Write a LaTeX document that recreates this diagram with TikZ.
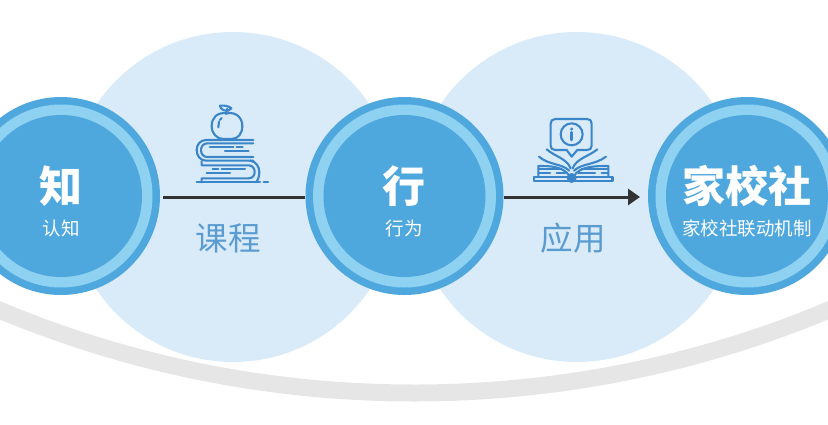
\documentclass[tikz,border=0pt]{standalone}
\usepackage{fontspec}
\setmainfont{Noto Sans CJK SC}
\usetikzlibrary{arrows.meta}
\definecolor{ringblue}{HTML}{4EA8DD}
\definecolor{ringlight}{HTML}{8FD1F0}
\definecolor{halo}{HTML}{D9EBF9}
\definecolor{arcgray}{HTML}{E6E6E6}
\definecolor{iconblue}{HTML}{3B86C8}
\definecolor{labelblue}{HTML}{5A9BD0}
\definecolor{linedark}{HTML}{333333}
\tikzset{
  halocirc/.style={circle,fill=halo,minimum size=330pt,inner sep=0pt},
  outercirc/.style={circle,fill=ringblue,minimum size=198pt,inner sep=0pt},
  midcirc/.style={circle,fill=ringlight,minimum size=183pt,inner sep=0pt},
  innercirc/.style={circle,fill=ringblue,minimum size=162pt,inner sep=0pt},
  title/.style={text=white,font=\fontsize{43}{43}\selectfont\bfseries,inner sep=0pt},
  subtitle/.style={text=white,font=\fontsize{18.5}{18.5}\selectfont,inner sep=0pt},
  steplabel/.style={text=labelblue,font=\fontsize{32.5}{33}\selectfont,inner sep=0pt},
  iconline/.style={draw=iconblue,line width=2.1pt,line cap=round,line join=round},
  connector/.style={draw=linedark,line width=3pt},
}
\begin{document}
\begin{tikzpicture}[x=1pt,y=-1pt]
\useasboundingbox (0,0) rectangle (828,424);
\begin{scope}
\clip (0,0) rectangle (828,424);
\draw[arcgray,line width=17pt] (414,-681) circle[radius=1074pt];
\node[halocirc] (h1) at (233,197) {};
\node[halocirc] (h2) at (577,197) {};
\coordinate (tip) at (640,197);
\node[outercirc] (zhi) at (61,196) {};
\node[outercirc] (xing) at (404.5,196) {};
\node[outercirc] (jia) at (747,196) {};
\draw[connector,shorten <=3pt] (zhi.east |- tip) -- (xing.west |- tip);
\draw[connector,-{Triangle[length=12pt,width=16pt]}] (xing.east |- tip) -- (tip);
\node[midcirc] at (zhi) {};
\node[midcirc] at (xing) {};
\node[midcirc] at (jia) {};
\node[innercirc] at (zhi) {};
\node[innercirc] at (xing) {};
\node[innercirc] at (jia) {};
\end{scope}
\node[title] (t1) at (61,186) {知};
\node[subtitle] (s1) at (61,228) {认知};
\node[title] (t2) at (404,186) {行};
\node[subtitle] (s2) at (404,228) {行为};
\node[title] (t3) at (747,186) {家校社};
\node[subtitle] (s3) at (747,228) {家校社联动机制};
\node[steplabel] (l1) at (228,238) {课程};
\node[steplabel] (l2) at (573,238) {应用};
% apple and books icon
\begin{scope}[shift={(170,90)},x=0.3333pt,y=-0.3333pt]
\draw[iconline] (172,70) .. controls (140,65) and (125,85) .. (125,108) .. controls (125,130) and (140,147) .. (160,147) .. controls (168,147) and (176,147) .. (184,147) .. controls (205,147) and (217,130) .. (217,108) .. controls (217,85) and (200,65) .. (172,70) -- cycle;
\draw[iconline] (145,112) -- (147,95) (150,90) -- (155,84);
\draw[iconline] (168,72) -- (172,56);
\draw[iconline] (168,62) .. controls (160,62) and (150,55) .. (150,47) .. controls (165,45) and (180,50) .. (184,55) .. controls (178,62) and (172,64) .. (168,62) -- cycle;
\draw[iconline] (250,150) -- (108,150) .. controls (90,150) and (80,165) .. (80,180) .. controls (80,198) and (92,212) .. (108,212) -- (250,212);
\draw[iconline] (250,160) -- (112,160) .. controls (100,160) and (93,170) .. (93,180) .. controls (93,192) and (100,201) .. (112,201) -- (250,201);
\draw[iconline] (120,172) -- (190,172) (200,172) -- (218,172) (165,184) -- (236,184);
\draw[iconline] (95,214) -- (95,226) -- (236,226) .. controls (248,226) and (254,236) .. (254,246) .. controls (254,256) and (248,265) .. (236,265) -- (95,265) -- (95,277);
\draw[iconline] (240,212) .. controls (258,214) and (268,230) .. (268,246) .. controls (268,260) and (264,270) .. (258,277);
\draw[iconline] (80,277) -- (270,277) (281,276) -- (294,276);
\draw[iconline] (128,237) -- (145,237) (155,237) -- (225,237) (110,248) -- (180,248);
\end{scope}
% open book with info bubble icon
\begin{scope}[shift={(520,100)},x=0.3333pt,y=-0.3333pt]
\draw[iconline] (106,57) -- (201,57) .. controls (210,57) and (215,62) .. (215,71) -- (215,137) .. controls (215,146) and (210,150) .. (201,150) -- (172,150) -- (155,170) -- (140,150) -- (106,150) .. controls (97,150) and (92,146) .. (92,137) -- (92,71) .. controls (92,62) and (97,57) .. (106,57) -- cycle;
\draw[iconline] (155,103) circle[radius=33];
\draw[iconline,line width=2.6pt] (155,97) -- (155,120);
\fill[iconblue] (155,87) circle[radius=5];
\draw[iconline] (152,205) .. controls (140,175) and (105,170) .. (80,148);
\draw[iconline] (158,205) .. controls (170,175) and (205,170) .. (232,148);
\draw[iconline] (148,212) .. controls (125,190) and (85,195) .. (57,170);
\draw[iconline] (162,212) .. controls (185,190) and (225,195) .. (258,170);
\draw[iconline] (150,230) .. controls (130,198) and (90,198) .. (55,198) -- (55,230);
\draw[iconline] (160,230) .. controls (180,198) and (225,198) .. (265,198) -- (265,230);
\draw[iconline] (55,208) -- (125,208) (185,208) -- (265,208);
\draw[iconline] (55,220) -- (90,220) (110,220) -- (135,220) (175,220) -- (225,220) (245,220) -- (265,220);
\draw[iconline,line width=2.6pt] (42,231) rectangle (277,243);
\fill[iconblue] (155,234) circle[radius=15];
\end{scope}
\end{tikzpicture}
\end{document}
